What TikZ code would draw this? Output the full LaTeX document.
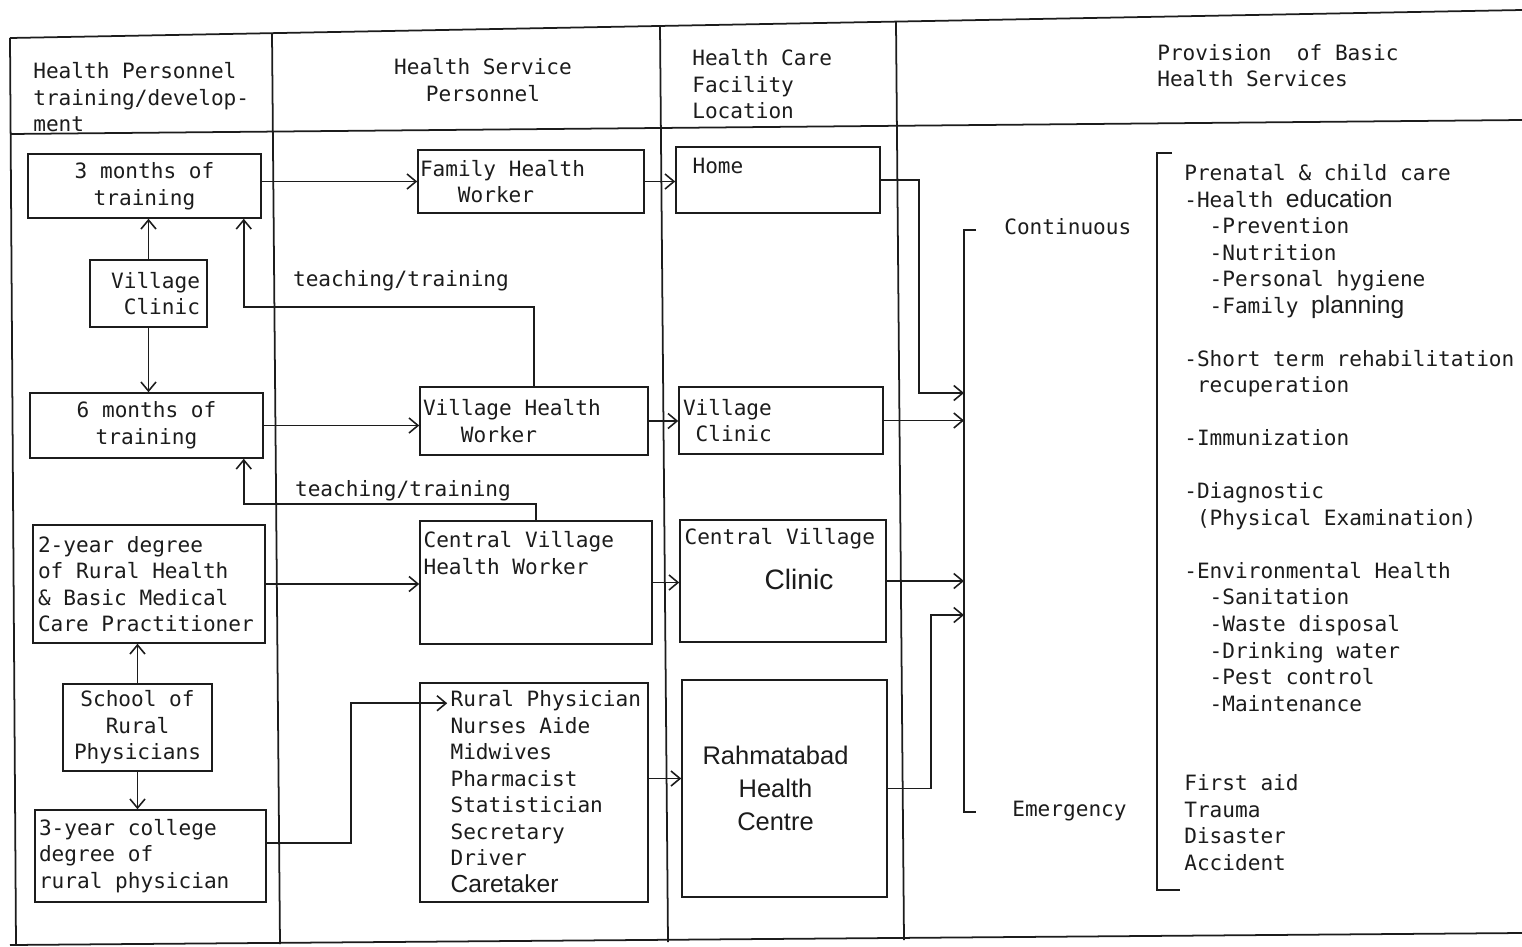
\documentclass[tikz,border=0pt]{standalone}
\usepackage{fontspec}
\setmonofont{DejaVu Sans Mono}
\setsansfont{Liberation Sans}
\usepackage{tikz}
\usetikzlibrary{arrows.meta,positioning}
\definecolor{Ink}{HTML}{1C1C1C}
\newcommand\twfont{\ttfamily\fontsize{12}{15.1}\selectfont}
\newcommand\swfont{\sffamily\fontsize{14}{15.1}\selectfont}
\newcommand\swbig{\sffamily\fontsize{14.5}{19}\selectfont}

\begin{document}
\begin{tikzpicture}[x=0.02cm, y=-0.02cm,
  tablerule/.style={draw=Ink, line width=1pt},
  box/.style={draw=Ink, line width=0.9pt, inner sep=0pt, font=\twfont, text=Ink},
  tw/.style={font=\twfont, text=Ink, inner sep=0pt},
  lbl/.style={tw, anchor=north west, align=flush left},
  rel/.style={-{Straight Barb[length=1.8mm,width=3mm]}, line width=0.9pt, draw=Ink}
]
  \useasboundingbox (0,0) rectangle (1522,947);

  \draw[tablerule] (10,38) -- (1522,10);
  \draw[tablerule] (10,134) -- (1522,120);
  \draw[tablerule] (10,945) -- (1522,933);
  \draw[tablerule] (10,38) -- (16,945);
  \draw[tablerule] (272,33) -- (280,944);
  \draw[tablerule] (660,26) -- (668,942);
  \draw[tablerule] (896,22) -- (904,940);

  \node[lbl] (hpers) at (33,62) {Health Personnel\\training/develop-\\ment};
  \node[tw, align=center, anchor=north] (hserv) at (483,58) {Health Service\\Personnel};
  \node[lbl] (hfac) at (692,49) {Health Care\\Facility\\Location};
  \node[lbl] (hprov) at (1157,44) {Provision\ \ of Basic\\Health Services};

  \node[box, minimum width=4.66cm, minimum height=1.28cm, align=center] (n3m) at (144.5,186) {3 months of\\training};
  \node[box, minimum width=2.34cm, minimum height=1.34cm, text width=2.06cm, align=flush right] (vclinic) at (148.5,293.5) {Village\\Clinic};
  \node[box, minimum width=4.66cm, minimum height=1.30cm, align=center] (n6m) at (146.5,425.5) {6 months of\\training};
  \node[box, minimum width=4.64cm, minimum height=2.36cm, text width=4.44cm, align=flush left] (deg2) at (149,584) {2-year degree\\of Rural Health\\\& Basic Medical\\Care Practitioner};
  \node[box, minimum width=2.98cm, minimum height=1.74cm, align=center] (school) at (137.5,727.5) {School of\\Rural\\Physicians};
  \node[box, minimum width=4.62cm, minimum height=1.84cm, text width=4.46cm, align=flush left] (col3) at (150.5,856) {3-year college\\degree of\\rural physician};

  \node[box, minimum width=4.52cm, minimum height=1.26cm, text width=4.44cm, align=flush left] (fhw) at (531,181.5) {Family Health\\\hspace*{1.8em}Worker};
  \node[box, minimum width=4.56cm, minimum height=1.36cm, text width=4.44cm, align=flush left] (vhw) at (534,421) {Village Health\\\hspace*{1.8em}Worker};
  \node[box, minimum width=4.64cm, minimum height=2.46cm] (cvhw) at (536,582.5) {};
  \node[lbl] (cvhwtxt) at ([shift={(4,11)}]cvhw.north west) {Central Village\\Health Worker};
  \node[box, minimum width=4.56cm, minimum height=4.38cm] (rp) at (534,792.5) {};
  \node[lbl] (rptxt) at ([shift={(31,8)}]rp.north west) {Rural Physician\\Nurses Aide\\Midwives\\Pharmacist\\Statistician\\Secretary\\Driver\\{\swfont Caretaker}};

  \node[box, minimum width=4.08cm, minimum height=1.32cm] (home) at (778,180) {};
  \node[lbl] (hometxt) at ([shift={(17,12)}]home.north west) {Home};
  \node[box, minimum width=4.08cm, minimum height=1.34cm, text width=3.92cm, align=flush left] (vc) at (781,420.5) {Village\\\hspace*{0.6em}Clinic};
  \node[box, minimum width=4.12cm, minimum height=2.44cm] (cvc) at (783,581) {};
  \node[lbl] (cvctxt) at ([shift={(5,9)}]cvc.north west) {Central Village};
  \node[text=Ink, inner sep=0pt, font=\sffamily\fontsize{16}{19}\selectfont] (cvcname) at ([shift={(16,-2)}]cvc.center) {Clinic};
  \node[box, minimum width=4.10cm, minimum height=4.34cm] (rhc) at (784.5,788.5) {};
  \node[text=Ink, inner sep=0pt, font=\swbig, align=center] (rhctxt) at ([shift={(-9,0)}]rhc.center) {Rahmatabad\\Health\\Centre};

  \node[tw] (teach1) at (401,281) {teaching/training};
  \node[tw] (teach2) at (403,491) {teaching/training};

  \coordinate (rpin) at ([shift={(28,21)}]rp.north west);
  \coordinate (ctop) at (964,230);
  \coordinate (cbot) at (964,812);
  \coordinate (inA) at (964,393);
  \coordinate (inD) at (964,615);
  \coordinate (ptop) at (1157,153);
  \coordinate (pbot) at (1157,890);

  \draw[tablerule] ([xshift=0.24cm]ctop) -- (ctop) -- (cbot) -- ([xshift=0.24cm]cbot);
  \node[tw, anchor=west] (cont) at (1004,227) {Continuous};
  \node[tw, anchor=west] (emerg) at (1012,811) {Emergency};

  \draw[tablerule] ([xshift=0.3cm]ptop) -- (ptop) -- (pbot) -- ([xshift=0.46cm]pbot);
  \node[lbl] (services) at (1184,164) {Prenatal \& child care\\
    -Health {\swfont education}\\
    \hspace*{1.2em}-Prevention\\
    \hspace*{1.2em}-Nutrition\\
    \hspace*{1.2em}-Personal hygiene\\
    \hspace*{1.2em}-Family {\swfont planning}\\[15.1pt]
    -Short term rehabilitation\\
    \hspace*{0.6em}recuperation\\[15.1pt]
    -Immunization\\[15.1pt]
    -Diagnostic\\
    \hspace*{0.6em}(Physical Examination)\\[15.1pt]
    -Environmental Health\\
    \hspace*{1.2em}-Sanitation\\
    \hspace*{1.2em}-Waste disposal\\
    \hspace*{1.2em}-Drinking water\\
    \hspace*{1.2em}-Pest control\\
    \hspace*{1.2em}-Maintenance\\[30.2pt]
    First aid\\
    Trauma\\
    Disaster\\
    Accident};

  \draw[rel] (vclinic.north) -- (vclinic.north |- n3m.south);
  \draw[rel] (vclinic.south) -- (vclinic.south |- n6m.north);
  \draw[rel] (school.north) -- (school.north |- deg2.south);
  \draw[rel] (school.south) -- (school.south |- col3.north);

  \draw[rel] (n3m.east |- fhw.west) -- (fhw.west);
  \draw[rel] (n6m.east) -- (n6m.east -| vhw.west);
  \draw[rel] (deg2.east) -- (deg2.east -| cvhw.west);
  \draw[rel] ([yshift=0.26cm]col3.east) -- ++(84,0) |- (rpin);

  \draw[rel] (vhw.north) -- ++(0,-79) -| ([xshift=-0.36cm]n3m.south east);
  \draw[rel] (cvhw.north) -- ++(0,-16) -| ([xshift=-0.4cm]n6m.south east);

  \draw[rel] (fhw.east) -- (fhw.east -| home.west);
  \draw[rel] (vhw.east) -- (vhw.east -| vc.west);
  \draw[rel] (cvhw.east) -- (cvhw.east -| cvc.west);
  \draw[rel] ([yshift=0.28cm]rp.east) -- ([yshift=0.28cm]rp.east -| rhc.west);

  \draw[rel] (home.east) -- ++(38,0) |- (inA);
  \draw[rel] (vc.east) -- (vc.east -| ctop);
  \draw[rel] (cvc.east) -- (cvc.east -| ctop);
  \draw[rel] (rhc.east) -- ++(43,0) |- (inD);
\end{tikzpicture}
\end{document}
